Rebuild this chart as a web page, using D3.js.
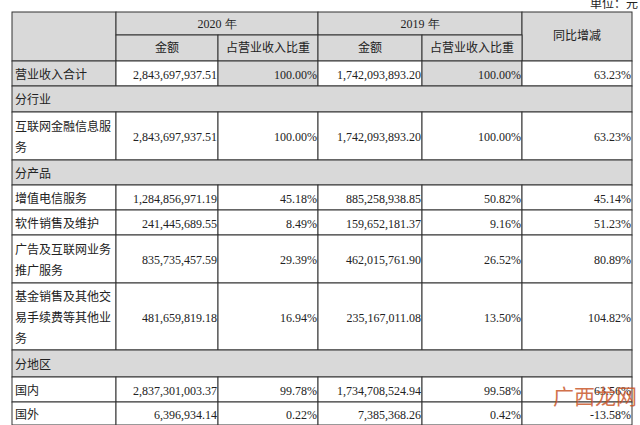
<!DOCTYPE html>
<html><head><meta charset="utf-8">
<script src="https://cdn.jsdelivr.net/npm/d3@7"></script>
<style>body{margin:0;background:#fff}</style>
</head><body><div id="table"></div>
<script>
// table data
var rowLabels = ["营业收入合计", "分行业", "互联网金融信息服务", "分产品", "增值电信服务", "软件销售及维护",
  "广告及互联网业务推广服务", "基金销售及其他交易手续费等其他业务", "分地区", "国内", "国外"];
var amount2020 = ["2,843,697,937.51", null, "2,843,697,937.51", null, "1,284,856,971.19", "241,445,689.55",
  "835,735,457.59", "481,659,819.18", null, "2,837,301,003.37", "6,396,934.14"];
var share2020 = ["100.00%", null, "100.00%", null, "45.18%", "8.49%", "29.39%", "16.94%", null, "99.78%", "0.22%"];
var amount2019 = ["1,742,093,893.20", null, "1,742,093,893.20", null, "885,258,938.85", "159,652,181.37",
  "462,015,761.90", "235,167,011.08", null, "1,734,708,524.94", "7,385,368.26"];
var share2019 = ["100.00%", null, "100.00%", null, "50.82%", "9.16%", "26.52%", "13.50%", null, "99.58%", "0.42%"];
var yoy = ["63.23%", null, "63.23%", null, "45.14%", "51.23%", "80.89%", "104.82%", null, "63.56%", "-13.58%"];
var labelLines = [["营业收入合计"], ["分行业"], ["互联网金融信息服", "务"], ["分产品"], ["增值电信服务"], ["软件销售及维护"],
  ["广告及互联网业务", "推广服务"], ["基金销售及其他交", "易手续费等其他业", "务"], ["分地区"], ["国内"], ["国外"]];
var rowHeights = [25, 26, 48, 25, 25, 25, 48, 67, 27, 25, 23];

var width = 640, height = 425;
var colX = [12, 116, 218, 318, 422, 522, 632];
var top0 = 12, h1 = 23, h2 = 26;
var cn = "'Noto Sans CJK SC'", num = "'Liberation Serif'";
var gray = "#d9d9d9", line = "#333";

var svg = d3.select("#table").append("svg").attr("width", width).attr("height", height);

var ys = [], acc = top0 + h1 + h2;
rowHeights.forEach(function(h) { ys.push(acc); acc += h; });

function cell(x0, x1, y0, y1, fill) {
  svg.append("rect").attr("x", x0).attr("y", y0).attr("width", x1 - x0).attr("height", y1 - y0)
    .attr("fill", fill).attr("stroke", line).attr("stroke-width", 1);
}
function text(x, yy, s, anchor, font) {
  svg.append("text").attr("x", x).attr("y", yy).attr("text-anchor", anchor)
    .attr("font-family", font).attr("font-size", 12).attr("fill", "#222").text(s);
}

// header
cell(colX[0], colX[1], top0, top0 + h1 + h2, gray);
cell(colX[1], colX[3], top0, top0 + h1, gray);
cell(colX[3], colX[5], top0, top0 + h1, gray);
cell(colX[5], colX[6], top0, top0 + h1 + h2, gray);
for (var i = 1; i < 5; i++) cell(colX[i], colX[i + 1], top0 + h1, top0 + h1 + h2, gray);
text((colX[1] + colX[3]) / 2, top0 + 16, "2020 年", "middle", num);
text((colX[3] + colX[5]) / 2, top0 + 16, "2019 年", "middle", num);
text((colX[5] + colX[6]) / 2, top0 + 28, "同比增减", "middle", cn);
["金额", "占营业收入比重", "金额", "占营业收入比重"].forEach(function(s, i) {
  text((colX[i + 1] + colX[i + 2]) / 2, top0 + h1 + 17, s, "middle", cn);
});
text(638, 8, "单位：元", "end", cn);

// body
var cols = [amount2020, share2020, amount2019, share2019, yoy];
rowLabels.forEach(function(r, i) {
  var y0 = ys[i], y1 = y0 + rowHeights[i], n = labelLines[i].length;
  if (amount2020[i] === null) {
    cell(colX[0], colX[6], y0, y1, gray);
    text(colX[0] + 3, (y0 + y1) / 2 + 5, r, "start", cn);
    return;
  }
  var first = i === 0;
  cell(colX[0], colX[1], y0, y1, first ? gray : "#fff");
  cols.forEach(function(c, j) {
    cell(colX[j + 1], colX[j + 2], y0, y1, first && (j === 1 || j === 3) ? gray : "#fff");
    text(colX[j + 2] - 1, (y0 + y1) / 2 + 5, c[i], "end", num);
  });
  labelLines[i].forEach(function(s, k) {
    text(colX[0] + 3, (y0 + y1) / 2 + 5 + (k - (n - 1) / 2) * 21, s, "start", cn);
  });
});

// watermark
svg.append("text").attr("x", 553).attr("y", 404).attr("font-family", cn).attr("font-size", 21)
  .attr("fill", "#c8501e").attr("opacity", 0.8).text("广西龙网");
</script></body></html>
